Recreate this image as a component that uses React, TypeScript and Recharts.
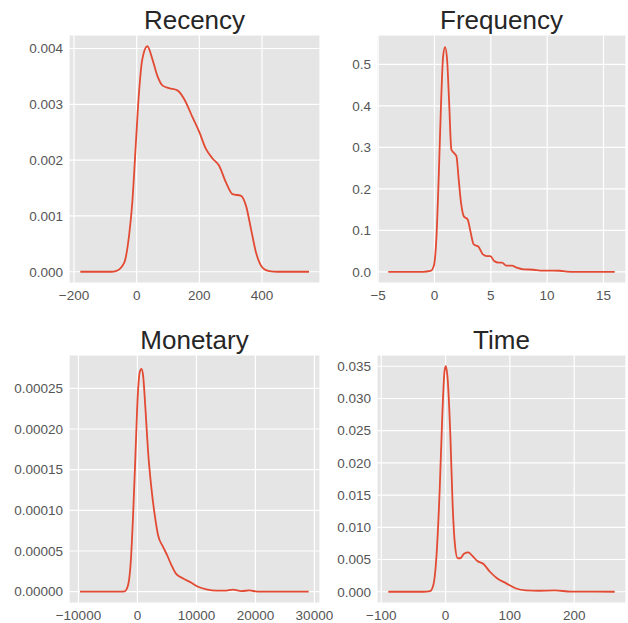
import { LineChart, Line, XAxis, YAxis, CartesianGrid } from 'recharts';

// KDE curves
const recencyX = [-180, -80, -67, -40, -24.5, -14, -3, 7.5, 18, 34, 50, 66, 82, 103, 130, 151, 178, 200, 221, 242, 263, 285, 306, 333, 349, 365, 381, 402, 423, 450, 550];
const recencyY = [0, 0, 0.00001, 0.00016, 0.00064, 0.00124, 0.00226, 0.00322, 0.00381, 0.00404, 0.00381, 0.00351, 0.00334, 0.00329, 0.00325, 0.0031, 0.00277, 0.0025, 0.0022, 0.00203, 0.0019, 0.0016, 0.00139, 0.00136, 0.00118, 0.00076, 0.00034, 0.00007, 0.00001, 0, 0];

const frequencyX = [-4.1, -1, -0.35, -0.06, 0.18, 0.38, 0.59, 0.77, 0.94, 1.12, 1.3, 1.5, 1.71, 1.95, 2.15, 2.36, 2.6, 2.95, 3.19, 3.48, 3.92, 4.3, 4.66, 4.96, 5.3, 5.7, 6.0, 6.37, 6.87, 7.3, 7.9, 8.8, 9.4, 10.56, 11.15, 11.74, 12.5, 16];
const frequencyY = [0, 0, 0.002, 0.014, 0.086, 0.23, 0.41, 0.52, 0.542, 0.512, 0.41, 0.295, 0.287, 0.279, 0.223, 0.166, 0.134, 0.126, 0.098, 0.066, 0.06, 0.042, 0.038, 0.038, 0.026, 0.022, 0.022, 0.015, 0.015, 0.01, 0.006, 0.005, 0.003, 0.003, 0.0025, 0.0005, 0, 0];

const monetaryX = [-9730, -3000, -2150, -1580, -1130, -735, -340, 56, 395, 680, 960, 1356, 1808, 2373, 2938, 3500, 4350, 5030, 5760, 6500, 7740, 9150, 10280, 11700, 13390, 14800, 16210, 17630, 19000, 20300, 29030];
const monetaryY = [0, 0, 0.0000005, 0.0000082, 0.0000368, 0.000094, 0.000167, 0.000241, 0.00027, 0.000274, 0.000266, 0.000225, 0.000172, 0.000127, 0.000094, 0.0000694, 0.0000551, 0.0000449, 0.0000327, 0.0000225, 0.0000163, 0.000011, 0.0000061, 0.0000029, 0.0000012, 0.0000012, 0.0000025, 0.0000008, 0.0000015, 0.0000002, 0];

const timeX = [-89, -35, -24, -19, -14, -9, -5, -1.5, 0.5, 3.5, 7.6, 11, 14.6, 18.7, 22.7, 28.8, 35.4, 41.4, 49, 59, 69, 80, 94.4, 109.6, 124.7, 145, 170, 195, 263];
const timeY = [0, 0, 0.0001, 0.00104, 0.0057, 0.0161, 0.0275, 0.0343, 0.035, 0.0327, 0.0239, 0.0135, 0.0073, 0.0052, 0.0052, 0.0059, 0.0061, 0.0056, 0.0048, 0.0043, 0.0031, 0.0021, 0.0013, 0.0005, 0.0002, 0.00015, 0.0002, 0.00003, 0];

const recencyXTicks = [-200, 0, 200, 400];
const recencyYTicks = [0, 0.001, 0.002, 0.003, 0.004];
const frequencyXTicks = [-5, 0, 5, 10, 15];
const frequencyYTicks = [0, 0.1, 0.2, 0.3, 0.4, 0.5];
const monetaryXTicks = [-10000, 0, 10000, 20000, 30000];
const monetaryYTicks = [0, 0.00005, 0.0001, 0.00015, 0.0002, 0.00025];
const timeXTicks = [-100, 0, 100, 200];
const timeYTicks = [0, 0.005, 0.01, 0.015, 0.02, 0.025, 0.03, 0.035];

const zip = (xs: number[], ys: number[]) => xs.map((x, i) => ({ x, y: ys[i] }));

const FONT = '"Liberation Sans", Arial, sans-serif';
const tickStyle = { fontSize: 13.5, fill: '#555', fontFamily: FONT };
const minus = (v: number) => String(v).replace('-', '\u2212');

type PanelProps = {
  title: string;
  data: { x: number; y: number }[];
  xDomain: [number, number];
  yDomain: [number, number];
  xTicks: number[];
  yTicks: number[];
  yDigits: number;
  left: number;
  top: number;
  width: number;
  yWidth: number;
  rightMargin: number;
};

const Panel = ({ title, data, xDomain, yDomain, xTicks, yTicks, yDigits, left, top, width, yWidth, rightMargin }: PanelProps) => {
  const plotLeft = yWidth;
  const plotW = width - yWidth - rightMargin;
  return (
    <div style={{ position: 'absolute', left, top, width, height: 310 }}>
      <div
        style={{
          position: 'absolute',
          left: plotLeft,
          width: plotW,
          top: 4,
          height: 32,
          lineHeight: '32px',
          textAlign: 'center',
          fontFamily: FONT,
          fontSize: 26,
          color: '#262626',
        }}
      >
        {title}
      </div>
      <LineChart width={width} height={310} data={data} margin={{ top: 35, right: rightMargin, left: 0, bottom: 0 }}>
        <CartesianGrid fill="#E5E5E5" stroke="#FFFFFF" strokeWidth={1.2} />
        <XAxis
          dataKey="x"
          type="number"
          domain={xDomain}
          ticks={xTicks}
          height={27}
          tickLine={false}
          axisLine={false}
          tickSize={5}
          tickMargin={2}
          tick={tickStyle}
          tickFormatter={minus}
          interval={0}
        />
        <YAxis
          type="number"
          domain={yDomain}
          ticks={yTicks}
          width={yWidth}
          tickLine={false}
          axisLine={false}
          tickSize={6}
          tickMargin={0}
          tick={tickStyle}
          tickFormatter={(v: number) => v.toFixed(yDigits)}
          interval={0}
        />
        <Line dataKey="y" type="monotone" stroke="#E24A33" strokeWidth={1.8} dot={false} isAnimationActive={false} />
      </LineChart>
    </div>
  );
};

export default function App() {
  return (
    <div style={{ position: 'absolute', left: 0, top: 0, width: 628, height: 623, overflow: 'hidden', background: '#fff' }}>
      <Panel title="Recency" data={zip(recencyX, recencyY)} xDomain={[-216, 585]} yDomain={[-0.000202, 0.004242]}
        xTicks={recencyXTicks} yTicks={recencyYTicks} yDigits={3} left={0} top={0} width={335} yWidth={69} rightMargin={15} />
      <Panel title="Frequency" data={zip(frequencyX, frequencyY)} xDomain={[-5.1, 17.0]} yDomain={[-0.027, 0.571]}
        xTicks={frequencyXTicks} yTicks={frequencyYTicks} yDigits={1} left={320} top={0} width={308} yWidth={57} rightMargin={2} />
      <Panel title="Monetary" data={zip(monetaryX, monetaryY)} xDomain={[-11600, 30950]} yDomain={[-0.0000139, 0.000291]}
        xTicks={monetaryXTicks} yTicks={monetaryYTicks} yDigits={5} left={0} top={320} width={335} yWidth={69} rightMargin={15} />
      <Panel title="Time" data={zip(timeX, timeY)} xDomain={[-106.6, 280.6]} yDomain={[-0.00175, 0.03675]}
        xTicks={timeXTicks} yTicks={timeYTicks} yDigits={3} left={320} top={320} width={308} yWidth={57} rightMargin={2} />
    </div>
  );
}
